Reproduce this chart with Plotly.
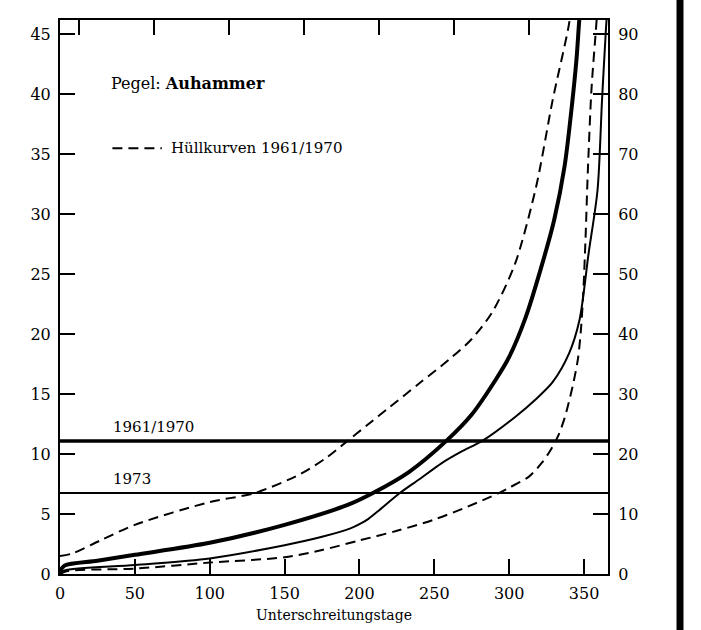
import plotly.graph_objects as go

# Flow duration curves, gauge Auhammer (days of non-exceedance vs. discharge)
days_mean = [0, 3, 25, 50, 100, 150, 193, 209, 233, 258, 275, 291, 300, 311, 321, 330, 337, 342, 345, 347, 349]
q_mean = [0.2, 0.7, 1.1, 1.6, 2.6, 4.1, 5.8, 6.75, 8.5, 11.1, 13.3, 16.2, 18.1, 21.4, 25.4, 29.5, 34.0, 39.2, 43.0, 46.5, 49.0]

days_1973 = [0, 3, 50, 100, 150, 175, 194, 200, 206, 213, 227, 240, 255, 268, 282, 304, 318, 329, 340, 347, 353, 359, 362, 364.7, 366]
q_1973 = [0.05, 0.3, 0.75, 1.3, 2.4, 3.1, 3.8, 4.15, 4.6, 5.3, 6.75, 7.9, 9.25, 10.2, 11.1, 13.1, 14.6, 16.0, 18.4, 21.2, 26.7, 32.0, 39.5, 45.6, 48.0]

days_env_hi = [0, 8, 27, 50, 100, 130, 160, 178, 191, 205, 220, 240, 260, 275, 289, 304, 318, 329, 340, 343]
q_env_hi = [1.5, 1.7, 2.8, 4.1, 6.0, 6.75, 8.3, 9.7, 11.0, 12.4, 13.9, 15.9, 17.9, 19.6, 21.9, 25.9, 32.3, 39.5, 45.9, 49.0]

days_env_lo = [0, 5, 50, 100, 150, 175, 200, 225, 249, 270, 293, 300, 313, 322, 328, 333, 337, 340, 343, 346, 348, 349.5, 351, 352.5, 355, 358, 360]
q_env_lo = [0.0, 0.25, 0.45, 0.95, 1.4, 2.0, 2.8, 3.6, 4.5, 5.5, 6.75, 7.2, 8.1, 9.3, 10.4, 11.6, 13.0, 14.4, 16.0, 18.0, 20.5, 23.5, 28.0, 33.5, 40.5, 45.5, 49.0]

# Mean discharge levels
mq_labels = ["1961/1970", "1973"]
mq_values = [11.1, 6.75]

x_ticks = [0, 50, 100, 150, 200, 250, 300, 350]
x_top_ticks = [13, 63, 113, 163, 213, 263, 313]
y_left_ticks = [0, 5, 10, 15, 20, 25, 30, 35, 40, 45]
y_right_ticks = [0, 10, 20, 30, 40, 50, 60, 70, 80, 90]

X_MAX = 366
Y_MAX = 46.2
FONT = "DejaVu Serif"
DASH = "10px,6px"
CURVE = dict(shape="spline", smoothing=0.8)

fig = go.Figure()

fig.add_trace(go.Scatter(x=days_env_hi, y=q_env_hi, mode="lines",
                         line=dict(color="black", width=2, dash=DASH, **CURVE)))
fig.add_trace(go.Scatter(x=days_env_lo, y=q_env_lo, mode="lines",
                         line=dict(color="black", width=2, dash=DASH, **CURVE)))
fig.add_trace(go.Scatter(x=days_1973, y=q_1973, mode="lines",
                         line=dict(color="black", width=2, **CURVE)))
fig.add_trace(go.Scatter(x=days_mean, y=q_mean, mode="lines",
                         line=dict(color="black", width=4, **CURVE)))

for label, val, w in zip(mq_labels, mq_values, [3.5, 2]):
    fig.add_trace(go.Scatter(x=[0, X_MAX], y=[val, val], mode="lines",
                             line=dict(color="black", width=w)))
    fig.add_annotation(x=34, y=val, text=label, showarrow=False, xanchor="left",
                       yanchor="bottom", yshift=3, font=dict(family=FONT, size=15, color="black"))

# invisible trace to activate top x axis and right y axis
fig.add_trace(go.Scatter(x=[0], y=[0], xaxis="x2", yaxis="y2", mode="markers",
                         marker=dict(opacity=0), hoverinfo="skip"))

fig.add_annotation(x=33, y=40.9, text="Pegel: <b>Auhammer</b>", showarrow=False, xanchor="left",
                   font=dict(family=FONT, size=16, color="black"))
fig.add_annotation(x=73, y=35.5, text="Hüllkurven 1961/1970", showarrow=False, xanchor="left",
                   font=dict(family=FONT, size=15, color="black"))
fig.add_shape(type="line", x0=35, x1=68, y0=35.5, y1=35.5, xref="x", yref="y",
              line=dict(color="black", width=2, dash=DASH))

fig.add_annotation(x=0.5, y=-0.056, xref="paper", yref="paper", text="Unterschreitungstage",
                   showarrow=False, yanchor="top", font=dict(family=FONT, size=14, color="black"))

# heavy rule on the right margin
fig.add_shape(type="line", xref="paper", yref="paper", x0=1.1314, x1=1.1314, y0=-0.12, y1=1.06,
              line=dict(color="black", width=7))

axis_common = dict(showgrid=False, zeroline=False, showline=True, linecolor="black", linewidth=2,
                   ticks="inside", ticklen=15, tickwidth=2, tickcolor="black",
                   tickfont=dict(family=FONT, size=16, color="black"))

fig.update_layout(
    width=701, height=630,
    margin=dict(l=60, r=93, t=20, b=56),
    paper_bgcolor="white", plot_bgcolor="white",
    showlegend=False,
    xaxis=dict(range=[0, X_MAX], tickvals=x_ticks, ticklabelstandoff=4, **axis_common),
    xaxis2=dict(range=[0, X_MAX], overlaying="x", side="top", tickvals=x_top_ticks,
                showticklabels=False, **axis_common),
    yaxis=dict(range=[0, Y_MAX], tickvals=y_left_ticks, ticklabelstandoff=4, **axis_common),
    yaxis2=dict(range=[0, 2 * Y_MAX], overlaying="y", side="right", tickvals=y_right_ticks,
                ticklabelstandoff=5, **axis_common),
)

fig.write_html("out.html")
